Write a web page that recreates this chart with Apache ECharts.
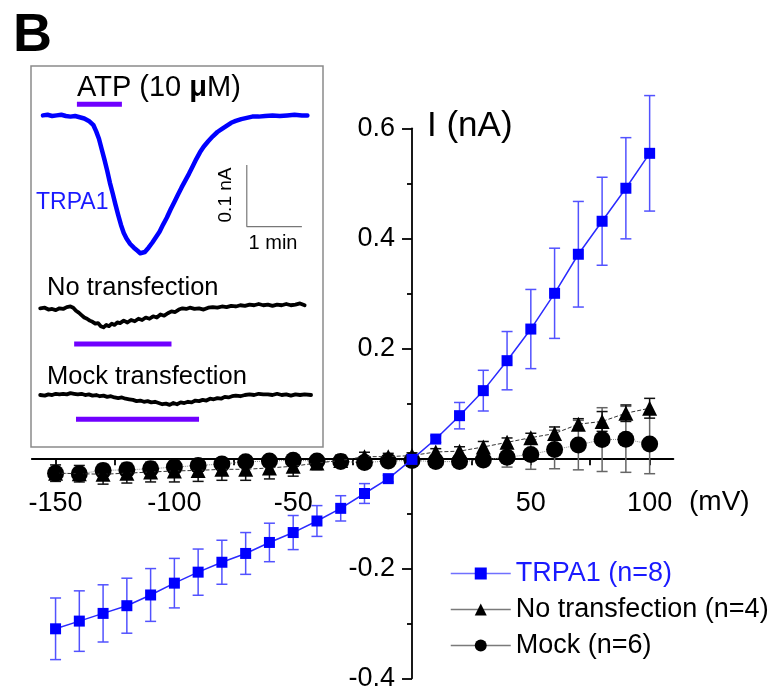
<!DOCTYPE html>
<html>
<head>
<meta charset="utf-8">
<script src="https://cdn.jsdelivr.net/npm/echarts@6/dist/echarts.min.js"></script>
<style>
  html, body { margin: 0; padding: 0; background: #ffffff; }
  #chart { width: 770px; height: 692px; }
</style>
</head>
<body>
<div id="chart"></div>
<script>
// ---- I-V relation (mV, nA) ----
const voltages = [-150, -140, -130, -120, -110, -100, -90, -80, -70, -60, -50, -40, -30, -20, -10,
                  0, 10, 20, 30, 40, 50, 60, 70, 80, 90, 100];

const trpa1Mean = [-0.310, -0.296, -0.282, -0.268, -0.2485, -0.227, -0.207, -0.189, -0.173, -0.153,
                   -0.135, -0.114, -0.091, -0.064, -0.037, -0.002, 0.035, 0.0775, 0.123, 0.1775,
                   0.235, 0.300, 0.371, 0.431, 0.491, 0.5545];
const trpa1Err  = [0.056, 0.055, 0.052, 0.050, 0.048, 0.045, 0.042, 0.040, 0.038, 0.035,
                   0.031, 0.028, 0.023, 0.018, 0.006, 0.004, 0.006, 0.024, 0.037, 0.053,
                   0.072, 0.082, 0.096, 0.080, 0.092, 0.105];

const noTransMean = [-0.027, -0.028, -0.029, -0.027, -0.025, -0.023, -0.022, -0.020, -0.020, -0.0175,
                     -0.0145, -0.0085, -0.004, 0.003, 0.003, 0.005, 0.0115, 0.013, 0.0206, 0.029,
                     0.0375, 0.045, 0.062, 0.067, 0.082, 0.091];
const noTransErr  = [0.015, 0.015, 0.018, 0.018, 0.018, 0.020, 0.020, 0.020, 0.020, 0.020,
                     0.018, 0.012, 0.010, 0.008, 0.006, 0.005, 0.006, 0.008, 0.010, 0.008,
                     0.008, 0.012, 0.010, 0.018, 0.015, 0.018];

const mockMean = [-0.027, -0.028, -0.022, -0.021, -0.019, -0.016, -0.013, -0.0105, -0.0064, -0.005,
                  -0.0035, -0.005, -0.006, -0.0075, -0.005, -0.004, -0.006, -0.006, -0.003, 0.002,
                  0.007, 0.016, 0.024, 0.034, 0.0345, 0.026];
const mockErr  = [0.006, 0.006, 0.006, 0.006, 0.006, 0.006, 0.006, 0.006, 0.005, 0.005,
                  0.005, 0.004, 0.004, 0.004, 0.004, 0.004, 0.005, 0.008, 0.010, 0.018,
                  0.027, 0.035, 0.045, 0.058, 0.060, 0.054];

const seriesNames = ['TRPA1 (n=8)', 'No transfection (n=4)', 'Mock (n=6)'];

const xTickValues  = [-150, -125, -100, -75, -50, -25, 25, 50, 75, 100];
const xLabelValues = [-150, -100, -50, 50, 100];

// ---- Example current traces (time in s, current in nA relative to baseline) ----
const traceTrpa1 = [[0,0.000],[5,0.001],[10,-0.001],[15,0.000],[20,0.001],[25,-0.001],[30,-0.002],
  [35,-0.001],[40,-0.003],[45,-0.005],[50,-0.009],[55,-0.016],[58,-0.026],[61,-0.038],[64,-0.055],
  [67,-0.072],[70,-0.090],[73,-0.110],[76,-0.127],[79,-0.145],[82,-0.162],[85,-0.178],[88,-0.191],
  [91,-0.200],[95,-0.209],[99,-0.215],[103,-0.220],[106,-0.224],[108,-0.226],[111,-0.222],
  [115,-0.215],[119,-0.207],[123,-0.198],[127,-0.189],[131,-0.177],[135,-0.166],[139,-0.153],
  [143,-0.141],[147,-0.129],[151,-0.117],[155,-0.106],[159,-0.095],[163,-0.083],[167,-0.071],
  [171,-0.060],[175,-0.051],[180,-0.042],[185,-0.034],[190,-0.027],[195,-0.022],[200,-0.017],
  [205,-0.012],[210,-0.009],[216,-0.006],[222,-0.004],[228,-0.002],[235,-0.002],[242,-0.001],
  [250,0.000],[258,-0.001],[266,0.000],[274,0.001],[282,0.000],[288,0.000]];

const traceNoTrans = [[-3,0.000],[2,0.001],[6,-0.002],[10,-0.001],[14,-0.003],[18,0.000],[22,-0.001],
  [26,0.002],[30,0.003],[33,0.001],[36,-0.004],[39,-0.007],[42,-0.011],[45,-0.015],[48,-0.017],
  [51,-0.020],[54,-0.022],[57,-0.025],[60,-0.024],[63,-0.029],[66,-0.031],[69,-0.027],[72,-0.029],
  [75,-0.025],[78,-0.027],[81,-0.023],[84,-0.024],[88,-0.020],[92,-0.023],[96,-0.019],[100,-0.021],
  [104,-0.017],[108,-0.019],[112,-0.015],[116,-0.017],[120,-0.013],[124,-0.015],[128,-0.010],
  [132,-0.012],[136,-0.008],[140,-0.005],[144,-0.006],[148,-0.002],[152,0.000],[156,-0.001],
  [160,0.001],[165,-0.001],[170,0.000],[175,-0.002],[180,0.001],[185,0.002],[190,0.001],[195,0.003],
  [200,0.002],[205,0.004],[210,0.003],[215,0.005],[220,0.004],[225,0.006],[230,0.005],[235,0.007],
  [240,0.005],[245,0.006],[250,0.004],[255,0.006],[260,0.005],[265,0.007],[270,0.005],[275,0.006],
  [280,0.008],[285,0.005]];

const traceMock = [[-3,0.000],[2,-0.001],[6,0.001],[10,0.000],[14,0.002],[18,0.001],[22,0.002],
  [26,0.001],[30,0.003],[34,0.002],[38,0.001],[42,0.002],[46,0.000],[50,0.001],[54,-0.001],[58,0.000],
  [62,-0.002],[66,-0.001],[70,-0.003],[74,-0.002],[78,-0.004],[82,-0.005],[86,-0.004],[90,-0.006],
  [94,-0.007],[98,-0.008],[102,-0.010],[106,-0.009],[110,-0.011],[114,-0.010],[118,-0.012],
  [122,-0.011],[126,-0.013],[130,-0.015],[134,-0.014],[138,-0.016],[142,-0.013],[146,-0.015],
  [150,-0.012],[154,-0.013],[158,-0.011],[162,-0.012],[166,-0.009],[170,-0.010],[174,-0.008],
  [178,-0.009],[182,-0.006],[186,-0.007],[190,-0.005],[194,-0.006],[198,-0.003],[202,-0.004],
  [206,-0.002],[210,-0.001],[215,-0.002],[220,0.000],[225,0.001],[230,0.000],[235,0.002],[240,0.001],
  [245,0.001],[250,0.000],[255,0.002],[260,0.000],[265,0.001],[270,-0.001],[275,0.001],[280,0.000],
  [285,0.001],[292,0.000]];

// ATP application windows (s) for each trace
const atpTrpa1   = [37, 86];
const atpNoTrans = [34, 140];
const atpMock    = [36, 170];

// Scale bar: 0.1 nA by 1 min
const scaleCurrent = 0.1;
const scaleTime = 60;
const scaleOrigin = [222, -0.0807];

// ---------------------------------------------------------------
const FONT = "'Liberation Sans', Arial, sans-serif";
const BLUE = '#0000ff';
const PURPLE = '#7000ff';

const MAIN_GRID = { left: 31.8, top: 128.3, width: 641.6, height: 550 };

function errData(mean, err) {
  return voltages.map((v, i) => [v, mean[i] - err[i], mean[i] + err[i]]);
}
function pairs(mean) {
  return voltages.map((v, i) => [v, mean[i]]);
}
function errorBarSeries(name, data, color, width, capHalf) {
  return {
    type: 'custom', name: name, xAxisIndex: 0, yAxisIndex: 0, z: 2,
    silent: true, data: data,
    renderItem: function (params, api) {
      const x = api.value(0);
      const lo = api.coord([x, api.value(1)]);
      const hi = api.coord([x, api.value(2)]);
      const st = { stroke: color, lineWidth: width, fill: null };
      return {
        type: 'group',
        children: [
          { type: 'line', shape: { x1: lo[0], y1: lo[1], x2: hi[0], y2: hi[1] }, style: st },
          { type: 'line', shape: { x1: lo[0] - capHalf, y1: lo[1], x2: lo[0] + capHalf, y2: lo[1] }, style: st },
          { type: 'line', shape: { x1: hi[0] - capHalf, y1: hi[1], x2: hi[0] + capHalf, y2: hi[1] }, style: st }
        ]
      };
    }
  };
}
function hiddenAxis(extra) {
  return Object.assign({ type: 'value', show: false, splitLine: { show: false } }, extra);
}
function traceLine(gridIdx, data, color, width) {
  return {
    type: 'line', xAxisIndex: gridIdx, yAxisIndex: gridIdx, data: data,
    showSymbol: false, symbol: 'none', silent: true, clip: false, z: 3,
    lineStyle: { color: color, width: width, join: 'round', cap: 'round' }
  };
}
function barLine(gridIdx, span, level) {
  return {
    type: 'line', xAxisIndex: gridIdx, yAxisIndex: gridIdx,
    data: [[span[0], level], [span[1], level]],
    showSymbol: false, symbol: 'none', silent: true, clip: false, z: 3,
    lineStyle: { color: PURPLE, width: 5, cap: 'butt' }
  };
}

const axisBlack = { color: '#000', width: 1.8 };
const insetGrid = (top, height) => ({ left: 31, top: top, width: 292, height: height, outerBoundsMode: 'none', containLabel: false });

const option = {
  animation: false,
  backgroundColor: '#ffffff',
  textStyle: { fontFamily: FONT },
  grid: [
    Object.assign({ containLabel: false, outerBoundsMode: 'none' }, MAIN_GRID),
    insetGrid(100, 160),
    insetGrid(290, 60),
    insetGrid(380, 50)
  ],
  xAxis: [
    {
      type: 'value', gridIndex: 0, min: -160, max: 110, position: 'bottom', offset: 0,
      axisLine: { onZero: false, lineStyle: axisBlack },
      axisTick: { show: true, inside: false, length: 7, customValues: xTickValues, lineStyle: axisBlack },
      axisLabel: {
        customValues: xLabelValues, margin: 32, fontSize: 27, color: '#000', fontFamily: FONT
      },
      splitLine: { show: false }
    },
    hiddenAxis({ gridIndex: 1, min: -13, max: 305 }),
    hiddenAxis({ gridIndex: 2, min: -13, max: 305 }),
    hiddenAxis({ gridIndex: 3, min: -13, max: 305 })
  ],
  yAxis: [
    {
      type: 'value', gridIndex: 0, min: -0.4, max: 0.6, interval: 0.2, position: 'left', offset: 0,
      axisLine: { onZero: false, lineStyle: axisBlack },
      axisTick: { show: true, inside: false, length: 10, lineStyle: axisBlack },
      minorTick: { show: true, splitNumber: 2, length: 5, lineStyle: axisBlack },
      axisLabel: {
        margin: 17, fontSize: 27, color: '#000', fontFamily: FONT,
        formatter: function (v) { return Math.abs(v) < 1e-9 ? '' : (Math.round(v * 10) / 10).toFixed(1); }
      },
      splitLine: { show: false }
    },
    hiddenAxis({ gridIndex: 1, min: -0.235, max: 0.025 }),
    hiddenAxis({ gridIndex: 2, min: -0.0678, max: 0.0298 }),
    hiddenAxis({ gridIndex: 3, min: -0.0569, max: 0.0244 })
  ],
  legend: {
    orient: 'vertical', left: 445, top: 555,
    itemWidth: 60, itemHeight: 15, itemGap: 9,
    textStyle: { fontSize: 27, fontFamily: FONT, color: '#000' },
    data: [
      { name: seriesNames[0], textStyle: { color: '#1a1aff' },
        itemStyle: { color: BLUE }, lineStyle: { color: '#7070ff', width: 1.5, type: 'solid' } },
      { name: seriesNames[1], itemStyle: { color: '#000' }, lineStyle: { color: '#7a7a7a', width: 1.5, type: 'solid' } },
      { name: seriesNames[2], itemStyle: { color: '#000' }, lineStyle: { color: '#7a7a7a', width: 1.5, type: 'solid' } }
    ]
  },
  graphic: [
    { type: 'text', x: 13, y: 36, style: { text: 'B', font: 'bold 54px ' + FONT, fill: '#000', verticalAlign: 'middle' } },
    { type: 'rect', shape: { x: 31, y: 66, width: 292, height: 381 }, z: 0,
      style: { fill: '#fff', stroke: '#8a8a8a', lineWidth: 1.5 } },
    { type: 'text', x: 77, y: 88, z: 5, style: {
        text: '{a|ATP (10 }{b|\u03bc}{a|M)}', verticalAlign: 'middle',
        rich: { a: { font: '29px ' + FONT, fill: '#000' }, b: { font: 'bold 29px ' + FONT, fill: '#000' } } } },
    { type: 'text', x: 36, y: 203, z: 5, style: { text: 'TRPA1', font: '23px ' + FONT, fill: '#1a1aff', verticalAlign: 'middle' } },
    { type: 'text', x: 226, y: 195, rotation: Math.PI / 2, z: 5,
      style: { text: '0.1 nA', font: '19px ' + FONT, fill: '#000', align: 'center', verticalAlign: 'middle' } },
    { type: 'text', x: 273, y: 243, z: 5, style: { text: '1 min', font: '20px ' + FONT, fill: '#000', align: 'center', verticalAlign: 'middle' } },
    { type: 'text', x: 47, y: 288, z: 5, style: { text: 'No transfection', font: '25.5px ' + FONT, fill: '#000', verticalAlign: 'middle' } },
    { type: 'text', x: 47, y: 377, z: 5, style: { text: 'Mock transfection', font: '25.5px ' + FONT, fill: '#000', verticalAlign: 'middle' } },
    { type: 'text', x: 427, y: 126, z: 5, style: { text: 'I (nA)', font: '35px ' + FONT, fill: '#000', verticalAlign: 'middle' } },
    { type: 'text', x: 689, y: 502, z: 5, style: { text: '(mV)', font: '28px ' + FONT, fill: '#000', verticalAlign: 'middle' } }
  ],
  series: [
    // error bars
    errorBarSeries('err-mock', errData(mockMean, mockErr), '#666666', 1.5, 5.5),
    errorBarSeries('err-notrans', errData(noTransMean, noTransErr), '#111111', 1.5, 5.5),
    errorBarSeries('err-trpa1', errData(trpa1Mean, trpa1Err), '#5252ff', 1.5, 5.5),
    // mean values
    {
      name: seriesNames[2], type: 'line', xAxisIndex: 0, yAxisIndex: 0, z: 4,
      data: pairs(mockMean), symbol: 'circle', symbolSize: 17,
      itemStyle: { color: '#000' },
      lineStyle: { color: '#888', width: 1, type: 'dotted' }
    },
    {
      name: seriesNames[1], type: 'line', xAxisIndex: 0, yAxisIndex: 0, z: 5,
      data: pairs(noTransMean), symbol: 'triangle', symbolSize: 15,
      itemStyle: { color: '#000' },
      lineStyle: { color: '#333', width: 1, type: 'dashed' }
    },
    {
      name: seriesNames[0], type: 'line', xAxisIndex: 0, yAxisIndex: 0, z: 6,
      data: pairs(trpa1Mean), symbol: 'rect', symbolSize: 11,
      itemStyle: { color: BLUE },
      lineStyle: { color: '#2a2aff', width: 1.5 }
    },
    // inset traces
    traceLine(1, traceTrpa1, BLUE, 4.5),
    barLine(1, atpTrpa1, 0.018),
    {
      type: 'line', xAxisIndex: 1, yAxisIndex: 1, silent: true, clip: false, z: 3,
      showSymbol: false, symbol: 'none',
      data: [[scaleOrigin[0], scaleOrigin[1]],
             [scaleOrigin[0], scaleOrigin[1] - scaleCurrent],
             [scaleOrigin[0] + scaleTime, scaleOrigin[1] - scaleCurrent]],
      lineStyle: { color: '#777', width: 1.2 }
    },
    traceLine(2, traceNoTrans, '#000', 3.8),
    barLine(2, atpNoTrans, -0.058),
    traceLine(3, traceMock, '#000', 3.8),
    barLine(3, atpMock, -0.0395)
  ]
};

const chart = echarts.init(document.getElementById('chart'), null, { renderer: 'canvas' });
chart.setOption(option);

// Make the two main axes cross at the origin (0 mV, 0 nA), labels included.
const origin = chart.convertToPixel({ gridIndex: 0 }, [0, 0]);
const gridBottom = MAIN_GRID.top + MAIN_GRID.height;
chart.setOption({
  xAxis: [{ offset: origin[1] - gridBottom }],
  yAxis: [{ offset: MAIN_GRID.left - origin[0] }]
});
</script>
</body>
</html>
